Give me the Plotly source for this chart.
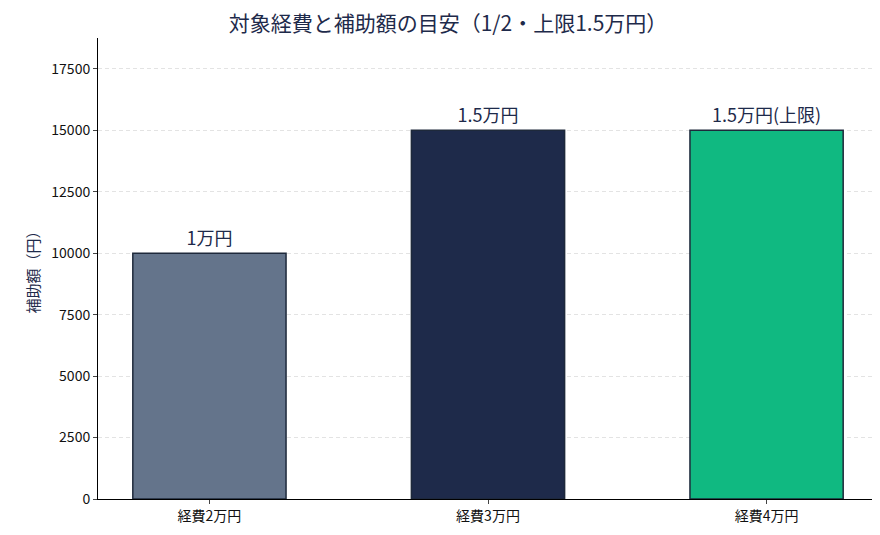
import plotly.graph_objects as go

categories = ["経費2万円", "経費3万円", "経費4万円"]
values = [10000, 15000, 15000]
labels = ["1万円", "1.5万円", "1.5万円(上限)"]
colors = ["#64748b", "#1e2a4a", "#10b981"]

font = "Noto Sans CJK JP"
fig = go.Figure(
    go.Bar(
        x=list(range(len(categories))),
        y=values,
        width=0.55,
        marker=dict(color=colors, line=dict(color="#1e293b", width=1.5)),
        text=labels,
        textposition="outside",
        textfont=dict(size=18, color="#1e2a4a", family=font),
        cliponaxis=False,
    )
)

fig.update_layout(
    width=880,
    height=535,
    margin=dict(l=90, r=10, t=30, b=44),
    plot_bgcolor="white",
    paper_bgcolor="white",
    font=dict(family=font, size=14, color="#111"),
    title=dict(
        text="対象経費と補助額の目安（1/2・上限1.5万円）",
        x=0.5,
        y=0.985,
        xanchor="center",
        font=dict(size=21, color="#1e2a4a"),
    ),
    showlegend=False,
    uniformtext=dict(mode=False),
)
fig.update_xaxes(
    tickvals=list(range(len(categories))),
    ticktext=categories,
    range=[-0.4, 2.4],
    showline=True,
    linecolor="black",
    ticks="outside",
    ticklen=4,
)
fig.update_yaxes(
    range=[0, 18750],
    dtick=2500,
    tickformat="d",
    showline=True,
    linecolor="black",
    ticks="outside",
    ticklen=4,
    showgrid=True,
    gridcolor="#e3e3e3",
    griddash="4px,3px",
    zeroline=False,
    title=dict(text="補助額（円）", font=dict(size=15, color="#1e2a4a"), standoff=8),
)

fig.write_html("out.html")
